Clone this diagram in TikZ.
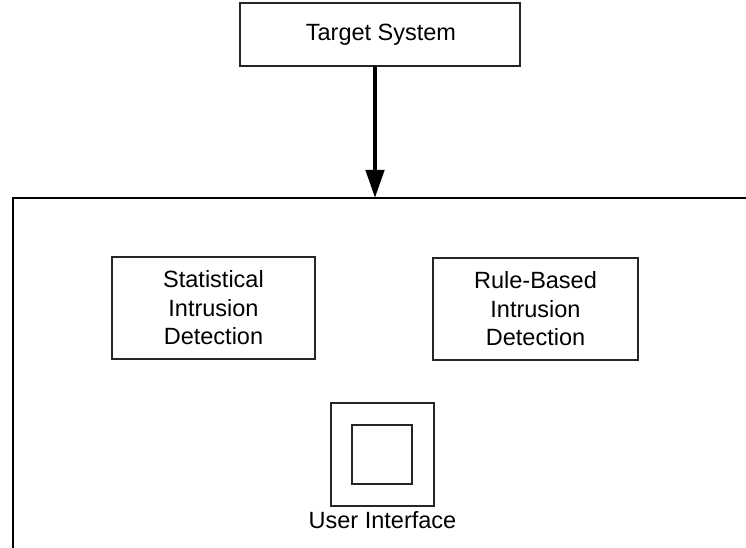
\documentclass[tikz,border=0pt]{standalone}
\usepackage{fontspec}
\setmainfont{Liberation Sans}
\usetikzlibrary{arrows.meta}
\begin{document}
\begin{tikzpicture}[x=1pt,y=-1pt,
  box/.style={draw=black!85,line width=1.3pt},
  lbl/.style={align=center,font=\fontsize{23.5}{28.5}\selectfont,inner sep=0pt},
  frame/.style={draw=black,line width=1.6pt}]
\useasboundingbox (0,0) rectangle (746,548);
% target system
\draw[box] (240,3) rectangle (520,66);
\node[lbl] (tgt) at (381,35) {Target System};
\coordinate (tgtbot) at (375,66);
% enclosing frame
\coordinate (ftop) at (375,198);
\draw[frame] (13,548) -- (13,198) -- (746,198);
% data flow into the frame
\draw[line width=4.5pt,-{Triangle[length=28pt,width=18pt]}] (tgtbot) -- (ftop);
% detection components
\draw[box] (112,257) rectangle (315,359);
\node[lbl] (stat) at (213.5,308) {Statistical\\Intrusion\\Detection};
\draw[box] (433,258) rectangle (638,360);
\node[lbl] (rule) at (535.5,309) {Rule-Based\\Intrusion\\Detection};
% user interface
\draw[box] (331,403) rectangle (434,506);
\draw[box] (352,425) rectangle (412,484);
\node[lbl,anchor=base] (ui) at (382.5,528) {User Interface};
\end{tikzpicture}
\end{document}
